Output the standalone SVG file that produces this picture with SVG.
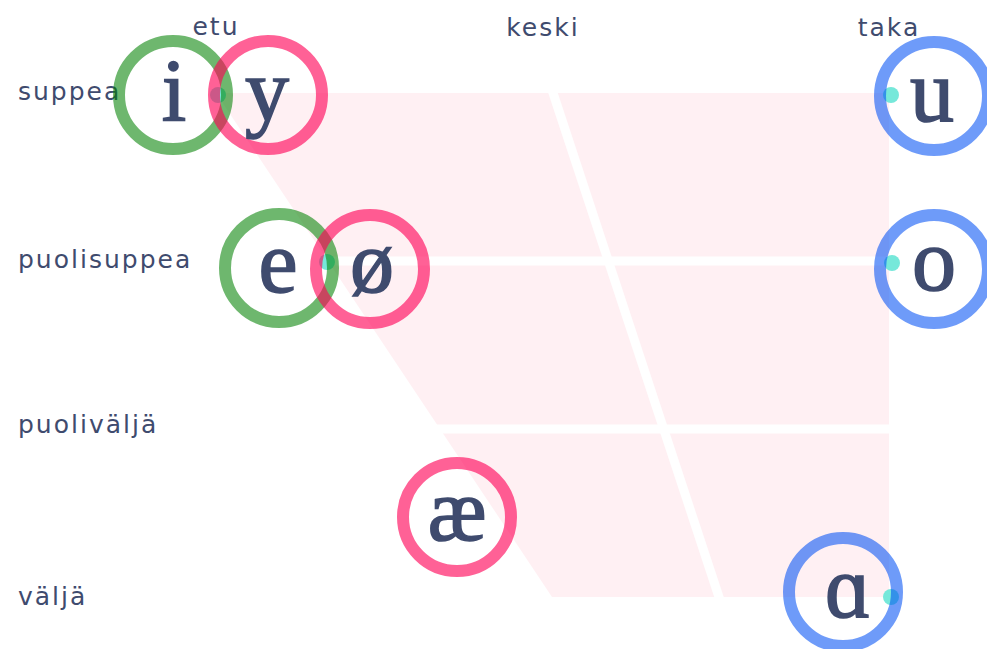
<svg xmlns="http://www.w3.org/2000/svg" width="987" height="649" viewBox="0 0 987 649">
  <style>
    .bg { fill: #ffffff; }
    .cell { fill: #fff0f3; }
    .gap { stroke: #ffffff; stroke-width: 9; fill: none; }
    .dot { fill: #76e8da; }
    .ring { fill: none; stroke-width: 12; }
    .front { stroke: rgba(0,128,0,0.57); }
    .round { stroke: rgba(255,0,85,0.62); }
    .back { stroke: rgba(0,80,245,0.57); }
    .vowel { font-family: "Liberation Serif", "DejaVu Serif", serif; font-size: 88px; fill: #3f4b6e; stroke: #3f4b6e; stroke-width: 1.6; text-anchor: middle; }
    .lbl { font-family: "DejaVu Sans", "Open Sans", sans-serif; font-size: 25px; letter-spacing: 2px; fill: #3f4b6e; }
    .col { text-anchor: middle; }
  </style>
  <rect class="bg" x="0" y="0" width="987" height="649"/>

  <g id="chart">
    <polygon class="cell" points="216,93 889,93 889,597 552,597"/>
    <line class="gap" x1="300" y1="261" x2="895" y2="261"/>
    <line class="gap" x1="420" y1="429" x2="895" y2="429"/>
    <line class="gap" x1="550.4" y1="85" x2="721.6" y2="605"/>
    <circle class="dot" cx="218" cy="95" r="8"/>
    <circle class="dot" cx="327" cy="262" r="8"/>
    <circle class="dot" cx="891" cy="95" r="8"/>
    <circle class="dot" cx="892" cy="263" r="8"/>
    <circle class="dot" cx="891" cy="597" r="8"/>
  </g>

  <g id="labels">
    <text class="lbl col" x="216" y="35">etu</text>
    <text class="lbl col" x="543" y="36">keski</text>
    <text class="lbl col" x="889" y="36">taka</text>
    <text class="lbl" x="18" y="100">suppea</text>
    <text class="lbl" x="18" y="268">puolisuppea</text>
    <text class="lbl" x="18" y="433">puoliväljä</text>
    <text class="lbl" x="18" y="605">väljä</text>
  </g>

  <g id="vowel-i">
    <circle class="ring front" cx="173" cy="95" r="54"/>
    <text class="vowel" x="174" y="120">i</text>
  </g>
  <g id="vowel-y">
    <circle class="ring round" cx="268" cy="95" r="54"/>
    <text class="vowel" x="267" y="120">y</text>
  </g>
  <g id="vowel-u">
    <circle class="ring back" cx="934" cy="96" r="54"/>
    <text class="vowel" x="932" y="121">u</text>
  </g>
  <g id="vowel-e">
    <circle class="ring front" cx="279" cy="268" r="54"/>
    <text class="vowel" x="278" y="292">e</text>
  </g>
  <g id="vowel-oe">
    <circle class="ring round" cx="370" cy="269" r="54"/>
    <text class="vowel" x="372" y="292">ø</text>
  </g>
  <g id="vowel-o">
    <circle class="ring back" cx="934" cy="269" r="54"/>
    <text class="vowel" x="934" y="290">o</text>
  </g>
  <g id="vowel-ae">
    <circle class="ring round" cx="457" cy="517" r="54"/>
    <text class="vowel" x="457" y="540">æ</text>
  </g>
  <g id="vowel-a">
    <circle class="ring back" cx="843" cy="592" r="54"/>
    <text class="vowel" x="848" y="617">ɑ</text>
  </g>
</svg>
